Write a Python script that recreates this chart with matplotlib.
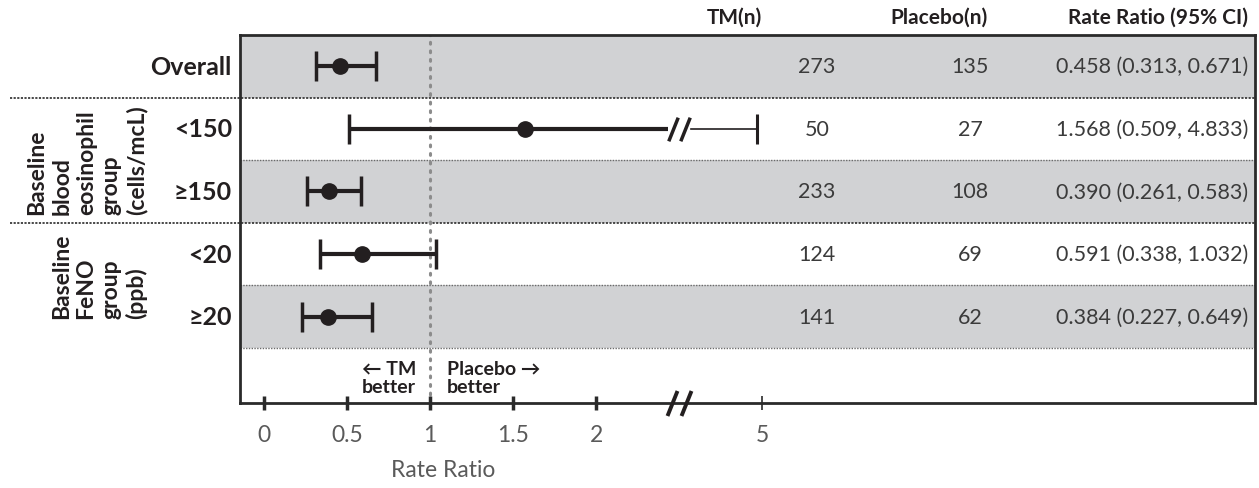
import numpy as np
import matplotlib
matplotlib.use('Agg')
import matplotlib.pyplot as plt
import matplotlib.transforms as mtransforms

plt.rcParams['font.family'] = ['Lato', 'DejaVu Sans']

# dati forest plot
labels = ['Overall', '<150', '≥150', '<20', '≥20']
rate_ratio = [0.458, 1.568, 0.390, 0.591, 0.384]
ci_low = [0.313, 0.509, 0.261, 0.338, 0.227]
ci_high = [0.671, 4.833, 0.583, 1.032, 0.649]
tm_n = [273, 50, 233, 124, 141]
placebo_n = [135, 27, 108, 69, 62]
group_labels = ['Baseline\nblood\neosinophil\ngroup\n(cells/mcL)', 'Baseline\nFeNO\ngroup\n(ppb)']
xticks = [0, 0.5, 1, 1.5, 2, 5]
xtick_labels = ['0', '0.5', '1', '1.5', '2', '5']

BREAK = 2.5
SQUEEZE = 0.2


def fwd(x):
    x = np.asarray(x, dtype=float)
    return np.where(x <= BREAK, x, BREAK + (x - BREAK) * SQUEEZE)


def inv(x):
    x = np.asarray(x, dtype=float)
    return np.where(x <= BREAK, x, BREAK + (x - BREAK) / SQUEEZE)


W, H = 1259, 489
fig = plt.figure(figsize=(W / 100, H / 100), dpi=100)
ax = fig.add_axes([240 / W, 1 - 404 / H, (1255 - 240) / W, (404 - 36) / H])
ax.set_xscale('function', functions=(fwd, inv))
ax.set_xlim(-0.145, inv(5.965))
ax.set_ylim(5.38, -0.5)

band = '#d1d2d4'
ink = '#231f20'
numc = '#3b3b3b'
greyc = '#5a5a5a'
slash = [(-0.4, -1), (0.4, 1)]

# fasce grigie alternate
for i in range(len(labels)):
    if i % 2 == 0:
        ax.axhspan(i - 0.5, i + 0.5, color=band, zorder=0, lw=0)

# separatori
blend = mtransforms.blended_transform_factory(ax.transAxes, ax.transData)
for i in range(len(labels)):
    yb = i + 0.5
    if i in (0, 2):
        ax.plot([(10 - 240) / (1255 - 240), 1], [yb, yb], transform=blend, clip_on=False,
                color='#3a3a3a', lw=1.3, ls=(0, (1.2, 0.8)), zorder=1)
    else:
        ax.plot([0, 1], [yb, yb], transform=blend, color='#6a6a6a', lw=1.0,
                ls=(0, (1, 1)), zorder=1)

# linea di riferimento a 1
ax.axvline(1, color='#8c8c8c', lw=2.2, ls=(0, (0.6, 2.2)), dash_capstyle='round', zorder=1)

# intervalli di confidenza
for i in range(len(labels)):
    if ci_high[i] > BREAK:
        gap_l = inv(BREAK - 0.07)
        gap_r = inv(BREAK + 0.07)
        ax.plot([ci_low[i], gap_l], [i, i], color=ink, lw=3, zorder=3, solid_capstyle='butt')
        ax.plot([gap_r, ci_high[i]], [i, i], color=ink, lw=1.2, zorder=3)
        ax.plot([ci_low[i]], [i], marker='|', ms=22, mew=2.5, color=ink, zorder=3)
        ax.plot([ci_high[i]], [i], marker='|', ms=22, mew=2.2, color=ink, zorder=3)
        ax.plot([rate_ratio[i]], [i], 'o', ms=11, color=ink, zorder=4)
        for dx in (-6, 6):
            tr = mtransforms.offset_copy(ax.transData, fig=fig, x=dx, y=0, units='dots')
            ax.plot([BREAK], [i], marker=slash, ms=17, mew=2.5,
                    color=ink, transform=tr, zorder=5)
    else:
        ax.errorbar(rate_ratio[i], i,
                    xerr=[[rate_ratio[i] - ci_low[i]], [ci_high[i] - rate_ratio[i]]],
                    fmt='o', ms=11, color=ink, elinewidth=3, capsize=11, capthick=2.5, zorder=3)

# etichette righe
for i, lab in enumerate(labels):
    ax.text(-0.008, i, lab, transform=blend, ha='right', va='center',
            fontsize=18, fontweight='bold', color=ink)

ax.text(-0.0913, 2.36, group_labels[0], transform=blend, rotation=90, ha='right', va='bottom',
        multialignment='left', fontsize=16.5, fontweight='bold', color=ink, linespacing=1.22)
ax.text(-0.0913, 4.02, group_labels[1], transform=blend, rotation=90, ha='right', va='bottom',
        multialignment='left', fontsize=16.5, fontweight='bold', color=ink, linespacing=1.22)

# colonne numeriche
colx_tm = (817 - 240) / (1255 - 240)
colx_pb = (970 - 240) / (1255 - 240)
colx_ci = (1248 - 240) / (1255 - 240)
for i in range(len(labels)):
    ax.text(colx_tm, i, str(tm_n[i]), transform=blend, ha='center', va='center',
            fontsize=15.5, color=numc)
    ax.text(colx_pb, i, str(placebo_n[i]), transform=blend, ha='center', va='center',
            fontsize=15.5, color=numc)
    ax.text(colx_ci, i, f'{rate_ratio[i]:.3f} ({ci_low[i]:.3f}, {ci_high[i]:.3f})',
            transform=blend, ha='right', va='center', fontsize=15.5, color=numc)

fig.text(734 / W, 1 - 18 / H, 'TM(n)', ha='center', va='center', fontsize=15,
         fontweight='bold', color=ink)
fig.text(939 / W, 1 - 18 / H, 'Placebo(n)', ha='center', va='center', fontsize=15,
         fontweight='bold', color=ink)
fig.text(1248 / W, 1 - 18 / H, 'Rate Ratio (95% CI)', ha='right', va='center', fontsize=15,
         fontweight='bold', color=ink)

# indicazioni direzione
ax.annotate('← TM\nbetter', xy=(1, 4.97), xytext=(-14, 0), textcoords='offset pixels',
            ha='right', va='center', multialignment='right', fontsize=14,
            fontweight='bold', color=ink, linespacing=1.12)
ax.annotate('Placebo →\nbetter', xy=(1, 4.97), xytext=(17, 0), textcoords='offset pixels',
            ha='left', va='center', multialignment='left', fontsize=14,
            fontweight='bold', color=ink, linespacing=1.12)

# assi
for s in ax.spines.values():
    s.set_color('#2a2a2a')
    s.set_linewidth(2)
ax.set_yticks([])
ax.set_xticks(xticks)
ax.set_xticklabels(xtick_labels, fontsize=16.5, color=greyc)
ax.tick_params(axis='x', direction='inout', length=10, width=2.5, color='#2a2a2a', pad=10)
ax.xaxis.get_major_ticks()[-1].tick1line.set_markeredgewidth(1.2)
for dx in (-7, 7):
    tr = mtransforms.offset_copy(ax.transData, fig=fig, x=dx, y=0, units='dots')
    tr = mtransforms.blended_transform_factory(tr, ax.transAxes)
    ax.plot([BREAK], [0], marker=slash, ms=18, mew=2.8,
            color=ink, transform=tr, clip_on=False, zorder=6)

fig.text(443 / W, 1 - 471 / H, 'Rate Ratio', ha='center', va='center', fontsize=16.5,
         color=greyc)

fig.savefig('out.png', dpi=100)
